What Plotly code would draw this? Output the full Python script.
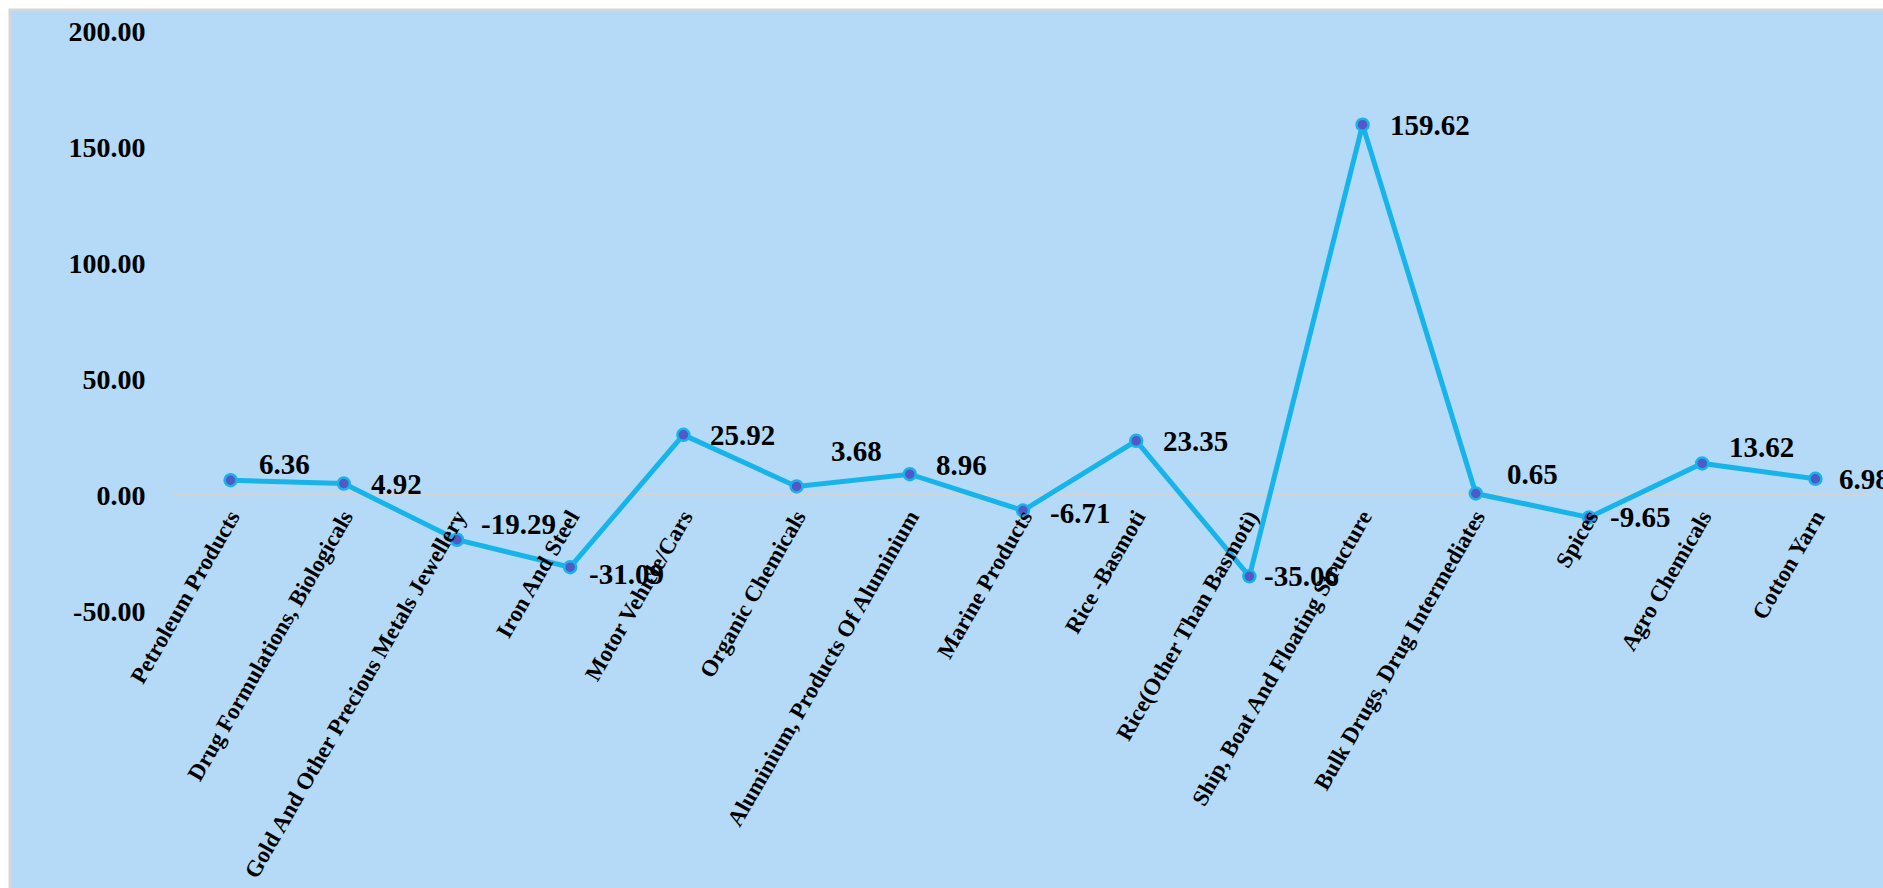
import plotly.graph_objects as go

categories = [
    "Petroleum Products",
    "Drug Formulations, Biologicals",
    "Gold And Other Precious Metals Jewellery",
    "Iron And Steel",
    "Motor Vehicle/Cars",
    "Organic Chemicals",
    "Aluminium, Products Of Aluminium",
    "Marine Products",
    "Rice -Basmoti",
    "Rice(Other Than Basmoti)",
    "Ship, Boat And Floating Structure",
    "Bulk Drugs, Drug Intermediates",
    "Spices",
    "Agro Chemicals",
    "Cotton Yarn",
]
values = [6.36, 4.92, -19.29, -31.09, 25.92, 3.68, 8.96, -6.71, 23.35, -35.06,
          159.62, 0.65, -9.65, 13.62, 6.98]
y_ticks = [-50, 0, 50, 100, 150, 200]
y_tick_text = [f"{t:.2f}" for t in y_ticks]

# data-label placement (pixels, styling only): left-edge offset, vertical offset (down +)
label_dx = [26, 25, 22, 17, 25, 32, 24, 25, 25, 13, 25, 29, 19, 25, 22]
label_dy = [-16, 0, -16, 7, 0, -35, -9, 2, 0, 0, 0, -19, 0, -16, 0]

FONT = "Liberation Serif"
LINE = "#17B4E9"
FILL = "#5158C8"
BG = "#B4DAF8"

fig = go.Figure()
fig.add_trace(go.Scatter(
    x=categories, y=values, mode="lines+markers",
    line=dict(color=LINE, width=5),
    marker=dict(size=12, color=FILL, line=dict(color=LINE, width=2.5)),
    cliponaxis=False, hoverinfo="x+y",
))

for c, v, dx, dy in zip(categories, values, label_dx, label_dy):
    fig.add_annotation(
        x=c, y=v, xref="x", yref="y", text=f"{v:.2f}", showarrow=False,
        xanchor="left", yanchor="middle", xshift=dx, yshift=-dy,
        font=dict(family=FONT, size=29, color="black", weight="bold"),
    )

# outer background panel with gray border
fig.add_shape(
    type="rect", xref="paper", yref="paper",
    xsizemode="pixel", ysizemode="pixel", xanchor=0, yanchor=1,
    x0=-164, x1=1800, y0=21, y1=-900,
    fillcolor=BG, line=dict(color="#D6D6D6", width=3), layer="below",
)

fig.update_layout(
    width=1883, height=888,
    margin=dict(l=174, r=11, t=31, b=277, autoexpand=False),
    paper_bgcolor="white", plot_bgcolor="rgba(0,0,0,0)",
    showlegend=False,
    xaxis=dict(
        type="category", range=[-0.5, len(categories) - 0.5],
        anchor="free", position=0.2,
        showgrid=False, showline=False, zeroline=False,
        tickangle=-60, ticks="", automargin=False, ticklabelstandoff=3,
        tickfont=dict(family=FONT, size=23, color="black", weight="bold"),
    ),
    yaxis=dict(
        range=[-50, 200], tickvals=y_ticks, ticktext=y_tick_text,
        showgrid=False, zeroline=True, zerolinecolor="#D3D3D3", zerolinewidth=1.5,
        showline=False, ticks="outside", ticklen=22, tickcolor="rgba(0,0,0,0)",
        automargin=False,
        tickfont=dict(family=FONT, size=28, color="black", weight="bold"),
    ),
)

fig.write_html(
    "out.html",
    config={"displayModeBar": False},
    post_script="document.body.style.margin='0';document.body.style.overflow='hidden';",
)
